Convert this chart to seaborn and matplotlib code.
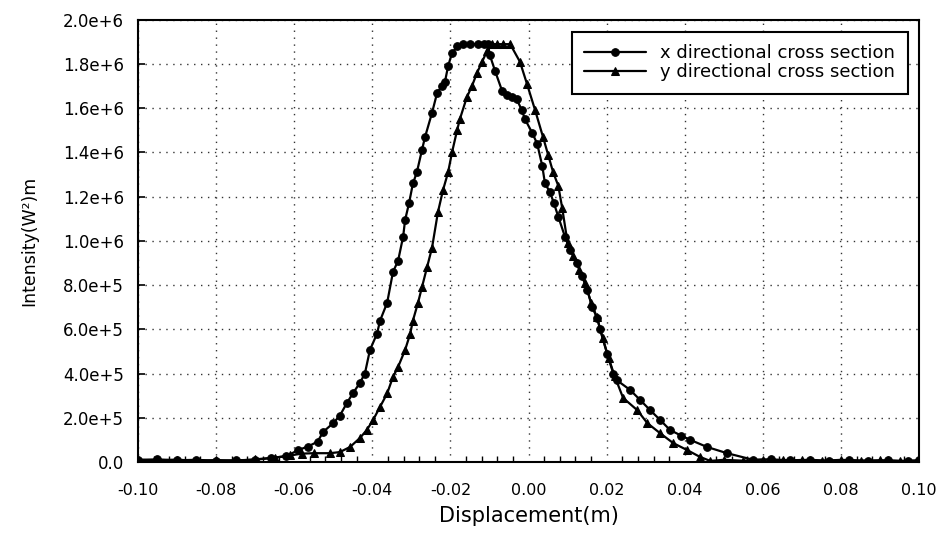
import pandas as pd
import numpy as np
import matplotlib
matplotlib.use('Agg')
import matplotlib.pyplot as plt
import seaborn as sns
from matplotlib.ticker import MultipleLocator, FuncFormatter

# x directional cross section (circles)
x_dir_disp = [-0.100, -0.095, -0.090, -0.085, -0.080, -0.075, -0.070, -0.066, -0.062, -0.059,
              -0.0565, -0.054, -0.0526, -0.050, -0.0483, -0.0465, -0.045, -0.0432, -0.0419, -0.0406,
              -0.0388, -0.038, -0.0362, -0.0347, -0.0334, -0.0321, -0.0316, -0.0306, -0.0296, -0.0286,
              -0.0273, -0.0265, -0.0247, -0.0234, -0.0222, -0.0214, -0.0206, -0.0196, -0.0182, -0.0168,
              -0.0150, -0.0130, -0.0115, -0.0104, -0.0099, -0.0086, -0.0068, -0.0055, -0.0042, -0.0030,
              -0.0017, -0.0009, 0.0009, 0.0022, 0.0035, 0.0042, 0.0055, 0.0065, 0.0076, 0.0093,
              0.0106, 0.0124, 0.0137, 0.0150, 0.0163, 0.0176, 0.0183, 0.0201, 0.0217, 0.0226,
              0.0260, 0.0286, 0.0311, 0.0337, 0.0362, 0.0390, 0.0414, 0.0457, 0.0508, 0.0575,
              0.062, 0.067, 0.072, 0.077, 0.082, 0.087, 0.092, 0.097, 0.100]
x_dir_int = [1.0e4, 1.2e4, 0.8e4, 1.0e4, 0.6e4, 0.8e4, 1.0e4, 1.8e4, 2.6e4, 5.4e4,
             7.0e4, 9.2e4, 1.36e5, 1.76e5, 2.1e5, 2.67e5, 3.1e5, 3.57e5, 4.0e5, 5.07e5,
             5.8e5, 6.4e5, 7.2e5, 8.6e5, 9.1e5, 1.02e6, 1.095e6, 1.17e6, 1.26e6, 1.31e6,
             1.41e6, 1.47e6, 1.58e6, 1.67e6, 1.70e6, 1.72e6, 1.79e6, 1.85e6, 1.88e6, 1.89e6,
             1.89e6, 1.89e6, 1.89e6, 1.89e6, 1.84e6, 1.77e6, 1.68e6, 1.66e6, 1.65e6, 1.64e6,
             1.59e6, 1.55e6, 1.49e6, 1.44e6, 1.34e6, 1.26e6, 1.22e6, 1.17e6, 1.11e6, 1.02e6,
             9.6e5, 9.0e5, 8.4e5, 7.8e5, 7.0e5, 6.5e5, 6.0e5, 4.9e5, 4.0e5, 3.7e5,
             3.26e5, 2.8e5, 2.35e5, 1.9e5, 1.45e5, 1.2e5, 1.0e5, 6.8e4, 4.0e4, 1.0e4,
             1.2e4, 0.8e4, 1.0e4, 0.6e4, 0.9e4, 0.5e4, 0.7e4, 0.4e4, 0.8e4]

# y directional cross section (triangles)
y_dir_disp = [-0.100, -0.095, -0.090, -0.085, -0.080, -0.075, -0.070, -0.065, -0.061, -0.058,
              -0.055, -0.0508, -0.0483, -0.0457, -0.0432, -0.0414, -0.0398, -0.038, -0.0362, -0.0347,
              -0.0334, -0.0316, -0.0303, -0.0296, -0.0283, -0.0273, -0.026, -0.0247, -0.0232, -0.0219,
              -0.0206, -0.0196, -0.0183, -0.0176, -0.0158, -0.0145, -0.0132, -0.0119, -0.0106, -0.0094,
              -0.0080, -0.0065, -0.0047, -0.0022, -0.0004, 0.0017, 0.0037, 0.0050, 0.0063, 0.0076,
              0.0086, 0.0100, 0.0115, 0.0130, 0.0145, 0.0160, 0.0175, 0.0190, 0.0205, 0.0220,
              0.0242, 0.0278, 0.0304, 0.0337, 0.0370, 0.0406, 0.0439, 0.0465, 0.050, 0.055,
              0.060, 0.065, 0.070, 0.075, 0.080, 0.085, 0.090, 0.095, 0.100]
y_dir_int = [1.0e4, 0.7e4, 1.1e4, 0.5e4, 0.9e4, 0.6e4, 1.2e4, 2.0e4, 3.0e4, 3.8e4,
             4.0e4, 4.0e4, 4.5e4, 6.8e4, 1.08e5, 1.45e5, 1.9e5, 2.5e5, 3.1e5, 3.85e5,
             4.3e5, 5.07e5, 5.8e5, 6.4e5, 7.2e5, 7.9e5, 8.8e5, 9.7e5, 1.13e6, 1.23e6,
             1.31e6, 1.40e6, 1.50e6, 1.55e6, 1.65e6, 1.70e6, 1.76e6, 1.81e6, 1.86e6, 1.89e6,
             1.89e6, 1.89e6, 1.89e6, 1.81e6, 1.71e6, 1.59e6, 1.47e6, 1.39e6, 1.31e6, 1.25e6,
             1.15e6, 9.9e5, 9.3e5, 8.7e5, 8.1e5, 7.2e5, 6.55e5, 5.6e5, 4.7e5, 3.9e5,
             2.9e5, 2.35e5, 1.76e5, 1.3e5, 8.6e4, 5.4e4, 2.3e4, 0.5e4, 1.0e4, 0.6e4,
             1.1e4, 0.7e4, 0.9e4, 0.5e4, 1.0e4, 0.6e4, 0.8e4, 0.5e4, 0.7e4]

labels = ['x directional cross section', 'y directional cross section']

df = pd.concat([
    pd.DataFrame({'disp': x_dir_disp, 'intensity': x_dir_int, 'series': labels[0]}),
    pd.DataFrame({'disp': y_dir_disp, 'intensity': y_dir_int, 'series': labels[1]}),
])

sns.set_style('white')
plt.rcParams['font.family'] = ['DejaVu Sans']
plt.rcParams['text.color'] = 'black'
plt.rcParams['axes.labelcolor'] = 'black'
plt.rcParams['xtick.color'] = 'black'
plt.rcParams['ytick.color'] = 'black'

fig = plt.figure(figsize=(9.38, 5.36), dpi=100)
ax = fig.add_axes([0.147, 0.138, 0.833, 0.825])

sns.lineplot(data=df, x='disp', y='intensity', hue='series', style='series',
             markers=['o', '^'], dashes=False, palette=['black', 'black'],
             estimator=None, markersize=5.5, markeredgecolor='black',
             linewidth=1.6, ax=ax)

ax.set_xlim(-0.10, 0.10)
ax.set_ylim(0, 2.0e6)
ax.xaxis.set_major_locator(MultipleLocator(0.02))
ax.xaxis.set_minor_locator(MultipleLocator(0.004))
ax.yaxis.set_major_locator(MultipleLocator(2.0e5))


def x_fmt(v, p):
    if abs(v) < 1e-9:
        v = 0.0
    return f'{v:.2f}'


def sci_fmt(v, p):
    if abs(v) < 1:
        return '0.0'
    e = int(np.floor(np.log10(abs(v)) + 1e-9))
    return f'{v / 10**e:.1f}e+{e}'


ax.xaxis.set_major_formatter(FuncFormatter(x_fmt))
ax.yaxis.set_major_formatter(FuncFormatter(sci_fmt))

ax.grid(True, which='major', color='0.2', linestyle=(0, (1, 4)), linewidth=1)
ax.tick_params(axis='x', which='major', direction='out', length=5, width=1.2,
               labelsize=11.5, pad=10)
ax.tick_params(axis='x', which='minor', direction='in', length=4, width=1, bottom=True)
ax.tick_params(axis='y', which='major', direction='in', length=5, width=1.2,
               labelsize=12, pad=10, left=True)

for s in ax.spines.values():
    s.set_color('black')
    s.set_linewidth(1.5)

ax.set_xlabel('Displacement(m)', fontsize=15, labelpad=6)
ax.set_ylabel('Intensity(W²)m', fontsize=12.5, labelpad=18)

leg = ax.legend(loc='upper right', bbox_to_anchor=(0.985, 0.973), borderaxespad=0,
                fontsize=13, frameon=True, fancybox=False, edgecolor='black',
                framealpha=1, handlelength=3.4, borderpad=0.7, labelspacing=0.05)
leg.get_frame().set_linewidth(1.5)

fig.savefig('out.png', dpi=100)
